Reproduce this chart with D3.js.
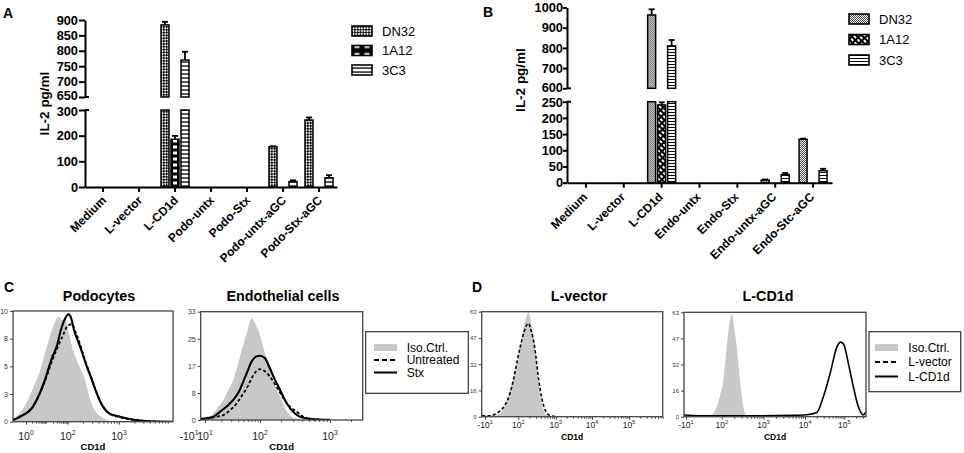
<!DOCTYPE html>
<html>
<head>
<meta charset="utf-8">
<script src="https://cdn.jsdelivr.net/npm/d3@7"></script>
<style>
body { margin: 0; background: #fff; }
svg { display: block; }
text { font-family: "Liberation Sans", Arial, sans-serif; }
</style>
</head>
<body>
<svg id="fig" width="964" height="453"></svg>
<script>
// ---------------- data ----------------
var seriesNames = ["DN32", "1A12", "3C3"];

// panel A : IL-2 pg/ml (mean, upper error)
var catsA = ["Medium", "L-vector", "L-CD1d", "Podo-untx", "Podo-Stx", "Podo-untx-aGC", "Podo-Stx-aGC"];
var dn32A = [0, 0, 884, 0, 0, 157, 261];
var dn32AErr = [0, 0, 10, 0, 0, 2, 10];
var a1a12A = [0, 0, 186, 0, 0, 0, 0];
var a1a12AErr = [0, 0, 13, 0, 0, 0, 0];
var c3c3A = [0, 0, 770, 0, 0, 21, 36];
var c3c3AErr = [0, 0, 27, 0, 0, 5, 10];
var ticksAUpper = [650, 700, 750, 800, 850, 900];
var ticksALower = [0, 100, 200, 300];

// panel B
var catsB = ["Medium", "L-vector", "L-CD1d", "Endo-untx", "Endo-Stx", "Endo-untx-aGC", "Endo-Stc-aGC"];
var dn32B = [0, 0, 963, 0, 0, 8, 134];
var dn32BErr = [0, 0, 28, 0, 0, 2, 2];
var a1a12B = [0, 0, 240, 0, 0, 0, 0];
var a1a12BErr = [0, 0, 8, 0, 0, 0, 0];
var c3c3B = [0, 0, 810, 0, 0, 25, 37];
var c3c3BErr = [0, 0, 29, 0, 0, 5, 6];
var ticksBUpper = [600, 700, 800, 900, 1000];
var ticksBLower = [0, 50, 100, 150, 200, 250];

// flow histograms: [channel (0-1024), count]
var podoIso = [[0,0.2],[45,0.8],[90,1.8],[128,3.0],[173,4.6],[211,6.5],[250,8.3],[275,9.2],[288,9.5],[314,9.2],[339,9.0],[358,8.0],[378,6.8],[416,5.3],[461,3.8],[493,2.0],[525,1.0],[570,0.4],[634,0.05],[685,0]];
var podoUntreated = [[0,0.15],[45,0.45],[128,1.36],[205,3.7],[250,5.5],[288,6.8],[320,7.8],[352,8.7],[378,8.8],[403,8.0],[429,7.0],[467,5.3],[506,3.8],[538,2.5],[576,1.36],[621,0.7],[685,0.4],[749,0.2],[813,0.1],[941,0]];
var podoStx = [[0,0.15],[45,0.45],[128,1.36],[205,3.8],[250,5.8],[280,6.8],[307,8.3],[333,9.3],[354,9.7],[371,9.4],[390,8.3],[429,6.8],[467,5.2],[504,3.8],[538,2.5],[576,1.36],[621,0.7],[685,0.45],[749,0.25],[813,0.1],[877,0.03],[1024,0]];
var podoTickCh = [83, 350, 678];
var podoTickLab = [["10", "0"], ["10", "2"], ["10", "3"]];
var podoDecades = [[0, 83], [2, 350], [3, 678]];

var endoIso = [[0,0.3],[40,0.8],[80,2.0],[109,3.8],[143,6.1],[173,9.0],[206,12.2],[248,19.3],[291,26.4],[322,31.0],[343,29.5],[364,27.4],[406,20.4],[438,16.0],[459,12.2],[512,6.1],[552,2.0],[583,0.8],[627,0.2],[690,0]];
var endoUntreated = [[0,0.3],[80,0.8],[143,1.5],[185,3.0],[228,5.1],[261,7.5],[291,9.7],[325,13.0],[350,14.8],[375,15.5],[401,15.0],[438,13.2],[491,9.2],[544,5.1],[607,2.5],[670,0.5],[754,0.1]];
var endoStx = [[0,0.3],[80,1.0],[122,2.5],[164,4.1],[237,8.2],[291,14.3],[322,17.8],[349,19.3],[374,19.6],[406,18.8],[438,15.7],[469,12.3],[501,9.2],[533,6.0],[564,3.6],[596,2.0],[627,1.0],[702,0.3],[817,0.05]];
var endoTickCh = [-74, 27, 375, 817];
var endoTickLab = [["-10", "1"], ["10", "1"], ["10", "2"], ["10", "3"]];
var endoDecades = [[1, 27], [2, 375], [3, 817]];

var lvecIso = [[2,0.5],[47,0.6],[75,1.0],[104,2.0],[142,10],[160,16],[179,22],[200,32],[218,42],[234,52],[251,59],[264,63],[279,57],[302,42],[320,22],[340,8],[368,1],[415,0.1]];
var lvecVector = [[2,0.5],[47,0.6],[75,1.5],[104,3.5],[132,7],[160,14],[179,22],[200,33],[218,42],[240,51],[264,56],[279,52],[302,40],[320,24],[340,11],[359,4],[381,1],[415,0.2]];
var lvecTickCh = [19, 207, 419, 624, 834];
var lvecTickLab = [["-10", "1"], ["10", "2"], ["10", "3"], ["10", "4"], ["10", "5"]];
var lvecDecades = [[2, 207], [3, 419], [4, 624], [5, 834]];

var lcdIso = [[0,0],[90,0.2],[135,0.5],[156,1],[184,6],[203,13],[221,22],[240,42],[253,54],[269,62],[282,54],[297,42],[315,22],[334,6],[353,0.5],[383,0]];
var lcdCD1d = [[0,1],[90,0.5],[372,0.5],[597,0.8],[691,1.2],[747,2.5],[784,12],[822,26],[860,42],[882,45],[901,43],[925,32],[953,18],[981,6],[1009,1],[1024,3]];
var lcdTickCh = [11, 212, 447, 681, 902];
var lcdTickLab = [["-10", "1"], ["10", "2"], ["10", "3"], ["10", "4"], ["10", "5"]];
var lcdDecades = [[2, 212], [3, 447], [4, 681], [5, 902]];

var legendC = ["Iso.Ctrl.", "Untreated", "Stx"];
var legendD = ["Iso.Ctrl.", "L-vector", "L-CD1d"];

// ---------------- setup ----------------
var svg = d3.select("#fig");
var defs = svg.append("defs");

function addPattern(id, w, h, bg, rects, transform) {
  var p = defs.append("pattern").attr("id", id).attr("patternUnits", "userSpaceOnUse")
    .attr("width", w).attr("height", h);
  if (transform) p.attr("patternTransform", transform);
  p.append("rect").attr("width", w).attr("height", h).attr("fill", bg);
  rects.forEach(function(r) {
    p.append("rect").attr("x", r[0]).attr("y", r[1]).attr("width", r[2]).attr("height", r[3]).attr("fill", r[4]);
  });
}
// panel A fills
addPattern("pA0", 4, 4, "#fff", [[0, 0, 2.2, 2.2, "#000"], [2, 2, 2.2, 2.2, "#000"]], "rotate(45)");
addPattern("pA1", 8, 6, "#000", [[2, 1.5, 4, 3, "#fff"]]);
addPattern("pA1L", 10, 10, "#000", [[2.5, 2.5, 5, 5, "#fff"]]);
addPattern("pA2", 4, 4, "#fff", [[0, 1.4, 4, 1.3, "#000"]]);
// panel B fills
addPattern("pB0", 2, 2, "#fff", [[0, 0, 1, 1, "#444"], [1, 1, 1, 1, "#444"]]);
addPattern("pB1", 5, 4, "#000", [[1, 1, 3, 2, "#fff"]], "rotate(45)");
addPattern("pB2", 4, 3, "#fff", [[0, 1, 4, 1, "#000"]]);

// ---------------- bar panels ----------------
function barPanel(p) {
  var g = svg.append("g");
  var x = d3.scaleBand().domain(p.cats).range([p.x0, p.x1]);
  var xi = d3.scaleBand().domain(seriesNames).range([-15, 15]).paddingInner(0.2).paddingOuter(0.1);
  var bw = xi.bandwidth();
  var yUp = d3.scaleLinear().domain(p.upDomain).range(p.upRange);
  var yLo = d3.scaleLinear().domain(p.loDomain).range(p.loRange);
  var loMax = p.loDomain[1], upMin = p.upDomain[0], upMax = p.upDomain[1];
  var axisY = yLo(0);

  var bars = [];
  seriesNames.forEach(function(s, si) {
    p.cats.forEach(function(c, ci) {
      if (p.vals[si][ci] > 0) bars.push({ s: s, si: si, c: c, v: p.vals[si][ci], e: p.errs[si][ci] });
    });
  });

  var bg = g.selectAll("g.bar").data(bars).join("g").attr("class", "bar")
    .attr("transform", function(d) { return "translate(" + (x(d.c) + x.bandwidth() / 2 + xi(d.s)) + ",0)"; });

  bg.append("rect")
    .attr("width", bw)
    .attr("y", function(d) { return yLo(Math.min(d.v, loMax)); })
    .attr("height", function(d) { return axisY - yLo(Math.min(d.v, loMax)); })
    .attr("fill", function(d) { return "url(#" + p.fills[d.si] + ")"; })
    .attr("stroke", "#000").attr("stroke-width", 1.5);

  bg.filter(function(d) { return d.v > loMax; }).append("rect")
    .attr("width", bw)
    .attr("y", function(d) { return yUp(Math.min(d.v, upMax)); })
    .attr("height", function(d) { return yUp(upMin) - yUp(Math.min(d.v, upMax)); })
    .attr("fill", function(d) { return "url(#" + p.fills[d.si] + ")"; })
    .attr("stroke", "#000").attr("stroke-width", 1.5);

  // error whiskers (upper only)
  var eg = bg.filter(function(d) { return d.e > 0; });
  function ys(d) { return d.v > loMax ? yUp : yLo; }
  eg.append("line")
    .attr("x1", bw / 2).attr("x2", bw / 2)
    .attr("y1", function(d) { return ys(d)(d.v); })
    .attr("y2", function(d) { return ys(d)(d.v + d.e); })
    .attr("stroke", "#000").attr("stroke-width", 1.8);
  eg.append("line")
    .attr("x1", bw / 2 - 3).attr("x2", bw / 2 + 3)
    .attr("y1", function(d) { return ys(d)(d.v + d.e); })
    .attr("y2", function(d) { return ys(d)(d.v + d.e); })
    .attr("stroke", "#000").attr("stroke-width", 1.8);

  // axes
  function styleAxis(a) {
    a.select(".domain").attr("stroke-width", 2);
    a.selectAll(".tick line").attr("stroke-width", 2);
    a.selectAll(".tick text").style("font-size", "12.8px").style("font-weight", "bold").attr("fill", "#000");
  }
  var ua = g.append("g").attr("transform", "translate(" + p.x0 + ",0)")
    .call(d3.axisLeft(yUp).tickValues(p.upTicks).tickFormat(d3.format("d"))
      .tickSize(p.tickLen).tickPadding(p.tickPad).tickSizeOuter(0));
  styleAxis(ua);
  var la = g.append("g").attr("transform", "translate(" + p.x0 + ",0)")
    .call(d3.axisLeft(yLo).tickValues(p.loTicks).tickFormat(d3.format("d"))
      .tickSize(p.tickLen).tickPadding(p.tickPad).tickSizeOuter(0));
  styleAxis(la);
  // the two labels at the break sit close together: nudge them apart a little
  ua.selectAll(".tick text").filter(function(d) { return d === upMin; }).attr("y", -1.2);
  la.selectAll(".tick text").filter(function(d) { return d === loMax; }).attr("y", 1.2);
  // break marks
  [yUp(upMin), yLo(loMax)].forEach(function(yy) {
    g.append("line").attr("x1", p.x0).attr("x2", p.x0 + 4).attr("y1", yy).attr("y2", yy)
      .attr("stroke", "#000").attr("stroke-width", 2);
  });

  var xa = g.append("g").attr("transform", "translate(0," + axisY + ")")
    .call(d3.axisBottom(x).tickSize(5).tickSizeOuter(0).tickFormat(""));
  xa.select(".domain").attr("stroke-width", 2);
  xa.selectAll(".tick line").attr("stroke-width", 2);

  g.selectAll("text.xlab").data(p.cats).join("text").attr("class", "xlab")
    .attr("transform", function(d) {
      return "translate(" + (x(d) + x.bandwidth() / 2 + p.labDx) + "," + (axisY + p.labDy) + ") rotate(-45)";
    })
    .attr("text-anchor", "end")
    .style("font-size", "12px").style("font-weight", "bold")
    .text(function(d) { return d; });

  g.append("text")
    .attr("transform", "translate(" + p.titleX + "," + p.titleY + ") rotate(-90)")
    .attr("text-anchor", "middle")
    .style("font-size", "13.5px").style("font-weight", "bold")
    .text("IL-2 pg/ml");

  // legend
  var lg = g.selectAll("g.leg").data(seriesNames).join("g").attr("class", "leg")
    .attr("transform", function(d, i) { return "translate(" + p.legX + "," + (p.legY + i * p.legDy) + ")"; });
  lg.append("rect").attr("y", -5).attr("width", 20).attr("height", 10)
    .attr("fill", function(d, i) { return "url(#" + p.legFills[i] + ")"; })
    .attr("stroke", "#000").attr("stroke-width", 1.6);
  lg.append("text").attr("x", p.legTx - p.legX).attr("y", 4.6)
    .style("font-size", "13px").text(function(d) { return d; });
}

barPanel({
  cats: catsA, vals: [dn32A, a1a12A, c3c3A], errs: [dn32AErr, a1a12AErr, c3c3AErr],
  x0: 85, x1: 337,
  upDomain: [650, 900], upRange: [97, 20], loDomain: [0, 300], loRange: [187, 110],
  upTicks: ticksAUpper, loTicks: ticksALower, tickLen: 6, tickPad: 1,
  fills: ["pA0", "pA1", "pA2"], legFills: ["pA0", "pA1L", "pA2"],
  labDx: 4, labDy: 14, titleX: 48.5, titleY: 103.5,
  legX: 352, legY: 31, legDy: 19.5, legTx: 382
});

barPanel({
  cats: catsB, vals: [dn32B, a1a12B, c3c3B], errs: [dn32BErr, a1a12BErr, c3c3BErr],
  x0: 567, x1: 832,
  upDomain: [600, 1000], upRange: [88.3, 7.5], loDomain: [0, 250], loRange: [182.7, 101.7],
  upTicks: ticksBUpper, loTicks: ticksBLower, tickLen: 4, tickPad: 0,
  fills: ["pB0", "pB1", "pB2"], legFills: ["pB0", "pB1", "pB2"],
  labDx: 2, labDy: 15, titleX: 524.5, titleY: 80,
  legX: 849, legY: 19, legDy: 20.5, legTx: 879
});

// ---------------- flow panels ----------------
function minorTicks(decades, maxCh) {
  // minor ticks at 2..9 x 10^k, placed on the log spacing between labelled decades
  var out = [];
  for (var i = 0; i < decades.length; i++) {
    var a = decades[i], b = decades[i + 1];
    var span = b ? (b[1] - a[1]) / (b[0] - a[0]) : (a[1] - decades[i - 1][1]) / (a[0] - decades[i - 1][0]);
    var nDec = b ? b[0] - a[0] : 1;
    for (var k = 0; k < nDec; k++) {
      for (var m = 2; m <= 9; m++) {
        var c = a[1] + (k + Math.log10(m)) * span;
        if (c <= maxCh) out.push(c);
      }
    }
  }
  return out;
}

function flowPanel(p) {
  var g = svg.append("g");
  var x = d3.scaleLinear().domain([0, 1024]).range([p.left, p.right]);
  var y = d3.scaleLinear().domain([0, p.ymax]).range([p.bottom, p.top]);
  defs.append("clipPath").attr("id", "clip" + p.id).append("rect")
    .attr("x", p.left).attr("y", p.top - 2).attr("width", p.right - p.left).attr("height", p.bottom - p.top + 2);
  var plot = g.append("g").attr("clip-path", "url(#clip" + p.id + ")");

  var area = d3.area().x(function(d) { return x(d[0]); }).y0(y(0)).y1(function(d) { return y(d[1]); }).curve(d3.curveMonotoneX);
  var line = d3.line().x(function(d) { return x(d[0]); }).y(function(d) { return y(d[1]); }).curve(d3.curveMonotoneX);

  plot.append("path").datum(p.iso).attr("d", area).attr("fill", "#c8c8c8");
  p.lines.forEach(function(l) {
    plot.append("path").datum(l.data).attr("d", line).attr("fill", "none")
      .attr("stroke", "#000").attr("stroke-width", l.w)
      .attr("stroke-dasharray", l.dash ? "3.2,2.2" : null);
  });

  g.append("rect").attr("x", p.left).attr("y", p.top)
    .attr("width", p.right - p.left).attr("height", p.bottom - p.top)
    .attr("fill", "none").attr("stroke", "#444").attr("stroke-width", 1.3);

  var ya = g.append("g").attr("transform", "translate(" + p.left + ",0)")
    .call(d3.axisLeft(y).tickValues(d3.range(5).map(function(i) { return p.ymax * i / 4; }))
      .tickFormat(function(d) { return Math.round(d); }).tickSize(3).tickPadding(2));
  ya.select(".domain").remove();
  ya.selectAll(".tick line").attr("stroke", "#444");
  ya.selectAll(".tick text").style("font-size", p.yfs + "px").attr("fill", "#333");

  var xa = g.append("g").attr("transform", "translate(0," + p.bottom + ")")
    .call(d3.axisBottom(x).tickValues(p.tickCh.filter(function(c) { return c >= 0; })).tickSize(3).tickFormat(""));
  xa.select(".domain").remove();
  xa.selectAll(".tick line").attr("stroke", "#444");
  var xm = g.append("g").attr("transform", "translate(0," + p.bottom + ")")
    .call(d3.axisBottom(x).tickValues(minorTicks(p.decades, 1024)).tickSize(2).tickFormat(""));
  xm.select(".domain").remove();
  xm.selectAll(".tick line").attr("stroke", "#444");

  var fs = p.xfs;
  g.selectAll("text.xt").data(p.tickCh).join("text").attr("class", "xt")
    .attr("x", function(d) { return x(d); }).attr("y", p.tickY)
    .attr("text-anchor", "middle").style("font-size", fs + "px").attr("fill", "#222")
    .each(function(d, i) {
      var t = d3.select(this);
      t.append("tspan").text(p.tickLab[i][0]);
      t.append("tspan").attr("dy", -fs * 0.45).style("font-size", (fs * 0.65) + "px").text(p.tickLab[i][1]);
    });

  g.append("text").attr("x", (p.left + p.right) / 2).attr("y", p.cdY)
    .attr("text-anchor", "middle").style("font-size", p.cdfs + "px").style("font-weight", "bold")
    .text("CD1d");
  g.append("text").attr("x", p.titleX).attr("y", 301)
    .attr("text-anchor", "middle").style("font-size", "14.3px").style("font-weight", "bold")
    .text(p.title);
}

flowPanel({ id: "podo", title: "Podocytes", titleX: 99, left: 13, right: 173, top: 311, bottom: 421.7, ymax: 10,
  iso: podoIso, lines: [{ data: podoUntreated, dash: true, w: 1.8 }, { data: podoStx, w: 2.1 }],
  tickCh: podoTickCh, tickLab: podoTickLab, decades: podoDecades,
  tickY: 439.5, xfs: 10.5, cdY: 449.5, cdfs: 9.5, yfs: 7 });
flowPanel({ id: "endo", title: "Endothelial cells", titleX: 283, left: 200.7, right: 362.7, top: 311.7, bottom: 420, ymax: 33,
  iso: endoIso, lines: [{ data: endoUntreated, dash: true, w: 1.8 }, { data: endoStx, w: 2.1 }],
  tickCh: endoTickCh, tickLab: endoTickLab, decades: endoDecades,
  tickY: 439.5, xfs: 10.5, cdY: 449.5, cdfs: 9.5, yfs: 7 });
flowPanel({ id: "lvec", title: "L-vector", titleX: 579, left: 481.7, right: 662.7, top: 311.7, bottom: 416.7, ymax: 63,
  iso: lvecIso, lines: [{ data: lvecVector, dash: true, w: 1.6 }],
  tickCh: lvecTickCh, tickLab: lvecTickLab, decades: lvecDecades,
  tickY: 427.5, xfs: 8.5, cdY: 439.5, cdfs: 8.5, yfs: 6 });
flowPanel({ id: "lcd", title: "L-CD1d", titleX: 768, left: 684, right: 866, top: 312.3, bottom: 416.7, ymax: 63,
  iso: lcdIso, lines: [{ data: lcdCD1d, w: 1.6 }],
  tickCh: lcdTickCh, tickLab: lcdTickLab, decades: lcdDecades,
  tickY: 427.5, xfs: 8.5, cdY: 439.5, cdfs: 8.5, yfs: 6 });

// flow legends
function flowLegend(x0, y0, w, h, sx, tx, rows, labels) {
  var g = svg.append("g");
  g.append("rect").attr("x", x0).attr("y", y0).attr("width", w).attr("height", h)
    .attr("fill", "#fff").attr("stroke", "#333").attr("stroke-width", 1.2);
  g.append("rect").attr("x", sx).attr("y", rows[0] - 3.5).attr("width", 23).attr("height", 7).attr("fill", "#c8c8c8");
  g.append("line").attr("x1", sx).attr("x2", sx + 23).attr("y1", rows[1]).attr("y2", rows[1])
    .attr("stroke", "#000").attr("stroke-width", 2).attr("stroke-dasharray", "5,3");
  g.append("line").attr("x1", sx).attr("x2", sx + 23).attr("y1", rows[2]).attr("y2", rows[2])
    .attr("stroke", "#000").attr("stroke-width", 2);
  g.selectAll("text").data(labels).join("text")
    .attr("x", tx).attr("y", function(d, i) { return rows[i] + 4.2; })
    .style("font-size", "12px").text(function(d) { return d; });
}
flowLegend(365.7, 331.7, 102.6, 61.6, 374, 406.7, [347.5, 360, 372.5], legendC);
flowLegend(869, 331.7, 91.7, 60, 875, 908.3, [347.5, 362, 376.5], legendD);

// panel letters
[["A", 3, 18], ["B", 483, 17], ["C", 4, 292], ["D", 472, 292]].forEach(function(l) {
  svg.append("text").attr("x", l[1]).attr("y", l[2]).style("font-size", "14px").style("font-weight", "bold").text(l[0]);
});
</script>
</body>
</html>
